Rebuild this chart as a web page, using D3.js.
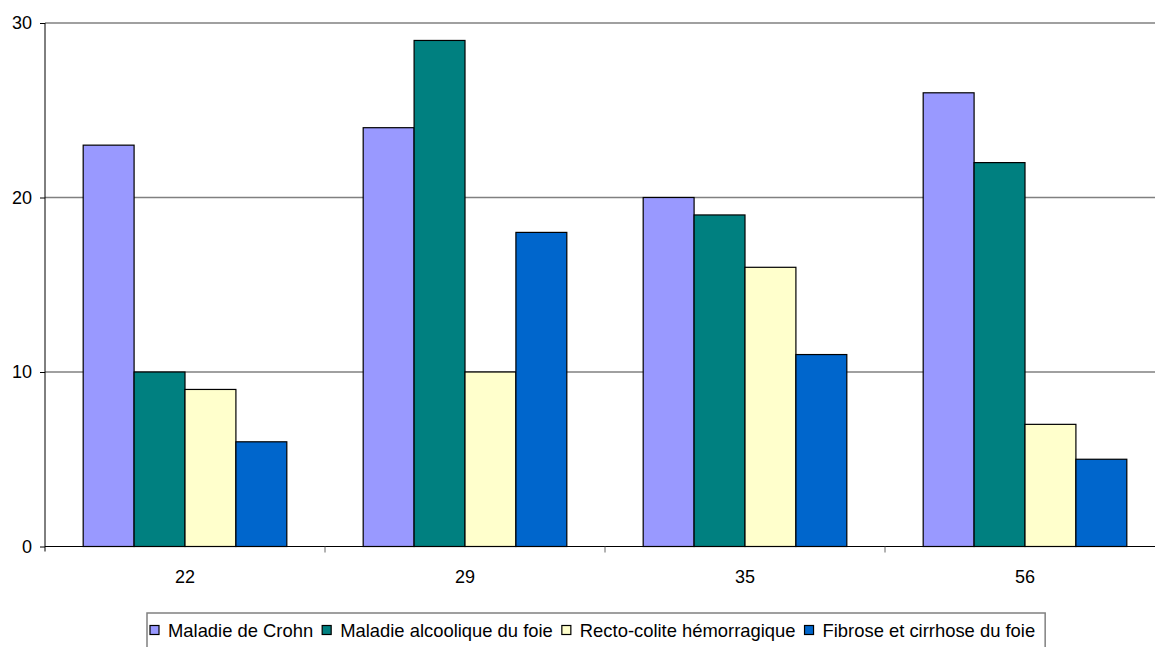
<!DOCTYPE html>
<html>
<head>
<meta charset="utf-8">
<script src="https://cdn.jsdelivr.net/npm/d3@7"></script>
<style>
  html, body { margin: 0; padding: 0; background: #fff; overflow: hidden; }
  svg { display: block; }
  svg text { font-family: "Liberation Sans", Arial, sans-serif; fill: #000; }
</style>
</head>
<body>
<svg id="chart" width="1155" height="647"></svg>
<script>
// categories and series
const categories = ['22', '29', '35', '56'];
const seriesNames = ['Maladie de Crohn', 'Maladie alcoolique du foie', 'Recto-colite hémorragique', 'Fibrose et cirrhose du foie'];
const crohn     = [23, 24, 20, 26];
const alcool    = [10, 29, 19, 22];
const recto     = [9, 10, 16, 7];
const fibrose   = [6, 18, 11, 5];
const yTicks    = [0, 10, 20, 30];

const colors = ['#9999ff', '#008080', '#ffffcc', '#0066cc'];
const seriesValues = [crohn, alcool, recto, fibrose];

const svg = d3.select('#chart');
const plotL = 45, plotR = 1165, plotT = 23, plotB = 546.5;
const fontSize = 18;

const x = d3.scaleBand().domain(categories).range([plotL, plotR]).padding(0);
const gap = 1.5; // gap width in bar widths
const barW = x.bandwidth() / (seriesNames.length + gap);
const y = d3.scaleLinear().domain([0, 30]).range([plotB, plotT]);

// gridlines
svg.append('g')
  .selectAll('line')
  .data(yTicks.filter(d => d > 0))
  .join('line')
  .attr('x1', plotL).attr('x2', plotR)
  .attr('y1', d => y(d)).attr('y2', d => y(d))
  .attr('stroke', '#808080')
  .attr('stroke-width', 1.5);

// bars
const rows = categories.map((c, i) => ({ cat: c, vals: seriesValues.map(s => s[i]) }));
const groups = svg.append('g').selectAll('g')
  .data(rows)
  .join('g')
  .attr('transform', d => `translate(${x(d.cat) + barW * gap / 2},0)`);

groups.selectAll('rect')
  .data(d => d.vals.map((v, k) => ({ v, k })))
  .join('rect')
  .attr('x', d => d.k * barW)
  .attr('y', d => y(d.v))
  .attr('width', barW)
  .attr('height', d => plotB - y(d.v))
  .attr('fill', d => colors[d.k])
  .attr('stroke', '#000')
  .attr('stroke-width', 1.2);

// y axis
const yAxis = svg.append('g')
  .attr('transform', `translate(${plotL},0)`)
  .call(d3.axisLeft(y).tickValues(yTicks).tickSize(5).tickPadding(8).tickFormat(d3.format('d')));
yAxis.select('.domain').attr('stroke', '#000').attr('d', `M0,${plotT}V${plotB + 5}`);
yAxis.selectAll('.tick line').attr('stroke', '#000');
yAxis.selectAll('.tick text').attr('font-size', fontSize).attr('fill', '#000')
  .attr('font-family', '"Liberation Sans", Arial, sans-serif');

// x axis: line + ticks at category boundaries
svg.append('line')
  .attr('x1', plotL).attr('x2', plotR)
  .attr('y1', plotB).attr('y2', plotB)
  .attr('stroke', '#000').attr('stroke-width', 1.2);

const bounds = categories.map(c => x(c)).concat([plotR]);
svg.append('g').selectAll('line')
  .data(bounds.slice(1))
  .join('line')
  .attr('x1', d => d).attr('x2', d => d)
  .attr('y1', plotB).attr('y2', plotB + 6)
  .attr('stroke', '#666').attr('stroke-width', 1);

svg.append('g').selectAll('text')
  .data(categories)
  .join('text')
  .attr('x', d => x(d) + x.bandwidth() / 2)
  .attr('y', 583)
  .attr('text-anchor', 'middle')
  .attr('font-size', fontSize)
  .text(d => d);

// legend
const legend = svg.append('g');
const legendBox = legend.append('rect')
  .attr('fill', '#fff')
  .attr('stroke', '#808080')
  .attr('stroke-width', 1.5);

let lx = 150;
seriesNames.forEach((name, k) => {
  legend.append('rect')
    .attr('x', lx).attr('y', 625.5)
    .attr('width', 9).attr('height', 9)
    .attr('fill', colors[k])
    .attr('stroke', '#000').attr('stroke-width', 1.2);
  const t = legend.append('text')
    .attr('x', lx + 18).attr('y', 637)
    .attr('font-size', 18.4)
    .text(name);
  lx += 18 + t.node().getComputedTextLength() + 9;
});
legendBox.attr('x', 147).attr('y', 613).attr('width', lx - 147 + 1).attr('height', 40);
</script>
</body>
</html>
